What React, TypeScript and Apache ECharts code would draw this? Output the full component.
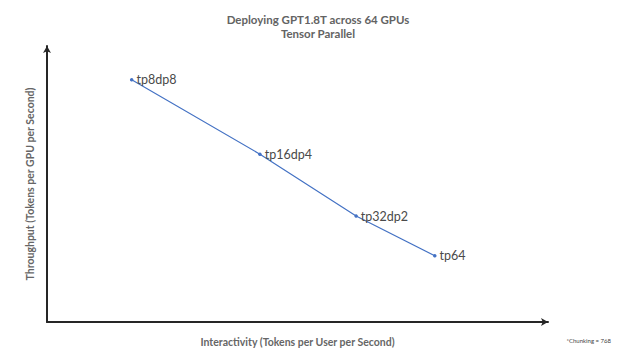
import React, { useEffect, useRef } from "react";
import * as echarts from "echarts";

const pointNames = ["tp8dp8", "tp16dp4", "tp32dp2", "tp64"];
const interactivity = [16.9, 42.5, 61.7, 77.4];
const throughput = [87.8, 60.8, 38.4, 24.0];

const titleLines = ["Deploying GPT1.8T across 64 GPUs", "Tensor Parallel"];
const xName = "Interactivity (Tokens per User per Second)";
const yName = "Throughput (Tokens per GPU per Second)";
const footnote = "*Chunking = 768";

export default function App() {
  const ref = useRef<HTMLDivElement>(null);
  useEffect(() => {
    if (!ref.current) return;
    const chart = echarts.init(ref.current, undefined, { renderer: "svg" });
    const font = "Lato, 'Open Sans', sans-serif";
    chart.setOption({
      animation: false,
      backgroundColor: "#ffffff",
      title: {
        text: titleLines.join("\n"),
        left: 313,
        textAlign: "center",
        top: 8,
        textStyle: {
          fontFamily: font,
          fontSize: 11.5,
          fontWeight: "bold",
          color: "#636363",
          lineHeight: 13.5,
        },
      },
      grid: { left: 47, right: 77, top: 46, bottom: 28, containLabel: false },
      xAxis: {
        type: "value",
        min: 0,
        max: 100,
        name: xName,
        nameLocation: "middle",
        nameGap: 14,
        nameTextStyle: {
          fontFamily: font,
          fontSize: 10.5,
          fontWeight: "bold",
          color: "#666666",
        },
        axisLine: {
          show: true,
          symbol: ["none", "arrow"],
          symbolSize: [6, 7],
          lineStyle: { color: "#262626", width: 2 },
        },
        axisTick: { show: false },
        axisLabel: { show: false },
        splitLine: { show: false },
      },
      yAxis: {
        type: "value",
        min: 0,
        max: 100,
        name: yName,
        nameLocation: "middle",
        nameRotate: 90,
        nameGap: 12,
        nameTextStyle: {
          fontFamily: font,
          fontSize: 10.5,
          fontWeight: "bold",
          color: "#666666",
        },
        axisLine: {
          show: true,
          symbol: ["none", "arrow"],
          symbolSize: [6, 7],
          lineStyle: { color: "#262626", width: 2 },
        },
        axisTick: { show: false },
        axisLabel: { show: false },
        splitLine: { show: false },
      },
      series: [
        {
          type: "line",
          data: interactivity.map((x, i) => ({ value: [x, throughput[i]], name: pointNames[i] })),
          symbol: "circle",
          symbolSize: 3.5,
          itemStyle: { color: "#4472C4" },
          lineStyle: { color: "#4472C4", width: 1.2 },
          label: {
            show: true,
            position: "right",
            distance: 3,
            formatter: (p: any) => p.name,
            fontFamily: font,
            fontSize: 12.5,
            color: "#4a4a4a",
          },
        },
      ],
      graphic: [
        {
          type: "text",
          right: 14,
          top: 337,
          style: {
            text: footnote,
            fontFamily: font,
            fontSize: 6,
            fill: "#404040",
          },
        },
      ],
    });
    return () => chart.dispose();
  }, []);
  return <div ref={ref} style={{ width: 625, height: 352, position: "absolute", left: 0, top: 0 }} />;
}
